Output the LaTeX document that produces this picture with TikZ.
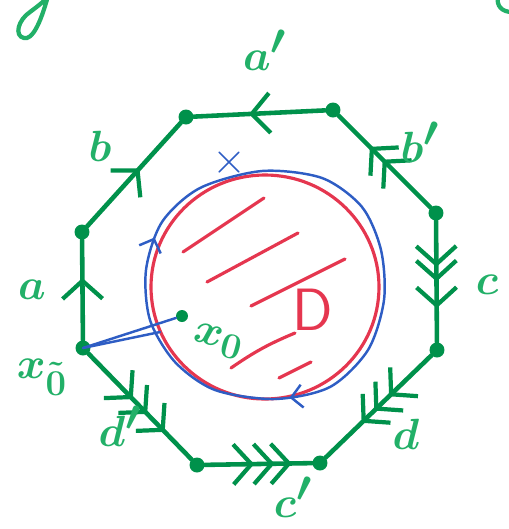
\documentclass[tikz,border=0pt]{standalone}
\usepackage{amsmath, amssymb}
\usepackage{tikz}
\usetikzlibrary{arrows.meta, decorations.markings}
\definecolor{penGreen}{HTML}{00914B}
\definecolor{labelGreen}{HTML}{22B068}
\definecolor{penRed}{HTML}{E5364F}
\definecolor{penBlue}{HTML}{2E5DC4}

\begin{document}
\begin{tikzpicture}[x=0.02cm, y=-0.02cm,
    vertex/.style={circle, fill=penGreen, inner sep=0pt, minimum size=0.3cm},
    edge/.style={penGreen, line width=2.6pt, line cap=round, postaction={decorate}},
    one/.style={decoration={markings, mark=at position #1 with {\arrow{>}}}},
    two/.style args={#1:#2}{decoration={markings,
        mark=at position #1 with {\arrow{>}}, mark=at position #2 with {\arrow{>}}}},
    three/.style args={#1:#2:#3}{decoration={markings,
        mark=at position #1 with {\arrow{>}}, mark=at position #2 with {\arrow{>}},
        mark=at position #3 with {\arrow{>}}}},
    >={Straight Barb[length=3.6mm, width=8mm, line width=2.4pt]},
    tag/.style={text=labelGreen, font=\fontsize{40}{42}\selectfont\boldmath},
    disc/.style={penRed, line width=1.8pt, line cap=round},
    lasso/.style={penBlue, line width=1.4pt, line cap=round},
  ]
    \useasboundingbox (0,0) rectangle (509,529);

    % octagon vertices
    \node[vertex] (v1) at (186,117) {};
    \node[vertex] (v2) at (333,110) {};
    \node[vertex] (v3) at (436,213) {};
    \node[vertex] (v4) at (437,350) {};
    \node[vertex] (v5) at (320,463) {};
    \node[vertex] (v6) at (197,465) {};
    \node[vertex] (v7) at (83,348)  {};
    \node[vertex] (v8) at (82,232)  {};

    % sides with their arrows
    \draw[edge, one=0.62]               (v7) -- (v8);
    \draw[edge, one=0.56]               (v8) -- (v1);
    \draw[edge, one=0.58]               (v2) -- (v1);
    \draw[edge, two=0.52:0.66]          (v3) -- (v2);
    \draw[edge, three=0.38:0.50:0.72]   (v3) -- (v4);
    \draw[edge, three=0.40:0.54:0.66]   (v4) -- (v5);
    \draw[edge, three=0.46:0.65:0.81]   (v6) -- (v5);
    \draw[edge, three=0.43:0.57:0.74]   (v7) -- (v6);

    % side labels
    \node[tag] (la')  at (265,50)  {$a'$};
    \node[tag] (lb)   at (100,146) {$b$};
    \node[tag] (lb')  at (420,142) {$b'$};
    \node[tag] (la)   at (32,290)  {$a$};
    \node[tag] (lc)   at (487,285) {$c$};
    \node[tag] (ld)   at (406,434) {$d$};
    \node[tag] (lc')  at (293,497) {$c'$};
    \node[tag] (ld')  at (120,426) {$d'$};

    % disc D with hatching
    \draw[disc] (265,287) ellipse [x radius=114, y radius=112];
    \draw[disc] (183,252) -- (264,198);
    \draw[disc] (207,282) -- (298,233);
    \draw[disc] (251,306) -- (345,259);
    \draw[disc] (231,368) to[bend left=6] (295,333);
    \draw[disc] (279,378) -- (311,362);
    \node[text=penRed, font=\fontsize{34}{36}\selectfont\sffamily] (D) at (313,310) {D};

    % base points
    \node[vertex, minimum size=0.24cm] (x0) at (182,316) {};
    \node[tag, font=\fontsize{30}{32}\selectfont\boldmath, rotate=-15] (lx0) at (218,341) {$x_0$};
    \node[tag, font=\fontsize{30}{32}\selectfont\boldmath] (lxt) at (42,377) {$x_{\tilde 0}$};

    % lasso
    \coordinate (meet) at (160,332);
    \draw[lasso, postaction={decorate}, decoration={markings,
        mark=at position 0.045 with {\arrow{Straight Barb[length=2.2mm, width=4.6mm]}},
        mark=at position 0.70 with {\arrow{Straight Barb[length=2.2mm, width=4.6mm]}}}]
      plot[smooth cycle] coordinates {(150,320) (146,270) (162,222) (200,188) (262,171)
        (322,178) (362,207) (381,250) (384,300) (368,350) (330,387) (275,399)
        (215,390) (175,362)};
    \draw[lasso] (v7.center) -- (x0);
    \draw[lasso] (v7.center) -- (meet);
    \node[text=penBlue, font=\fontsize{30}{32}\selectfont] (cross) at (229,163) {$\times$};

    % cut-off marks at the top edge
    \begin{scope}
      \clip (0,0) rectangle (509,529);
      \draw[labelGreen, line width=2.4pt, line cap=round]
        (48,-4) .. controls (40,25) and (32,40) .. (24,38)
        .. controls (14,36) and (18,20) .. (30,12) .. controls (38,6) and (46,0) .. (50,-6);
      \draw[labelGreen, line width=2.4pt, line cap=round]
        (498,-4) .. controls (496,6) and (502,12) .. (512,12);
    \end{scope}
\end{tikzpicture}
\end{document}
